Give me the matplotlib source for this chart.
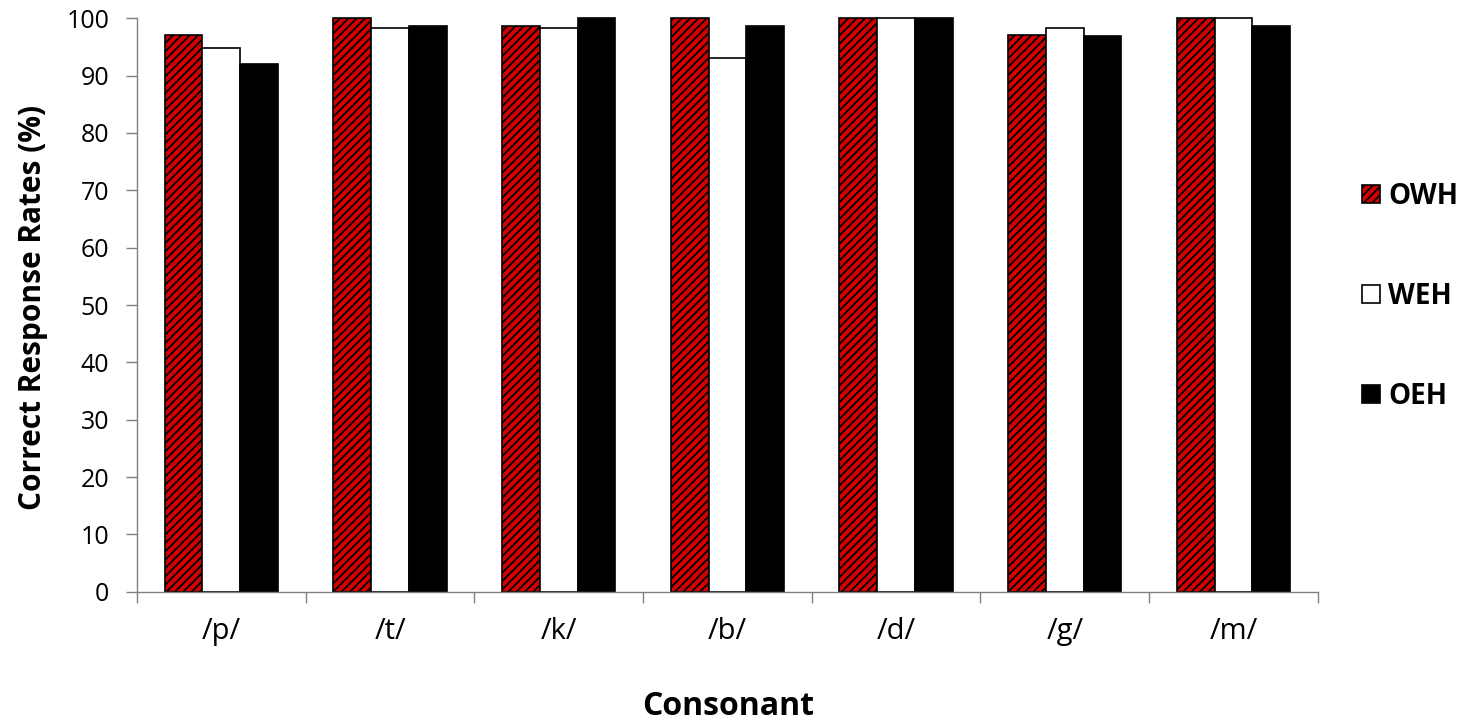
import matplotlib
matplotlib.use("Agg")
import matplotlib.pyplot as plt
import numpy as np

categories = ["/p/", "/t/", "/k/", "/b/", "/d/", "/g/", "/m/"]
series_names = ["OWH", "WEH", "OEH"]
owh = [97.0, 100.0, 98.6, 100.0, 100.0, 97.1, 100.0]
weh = [94.8, 98.3, 98.3, 93.0, 100.0, 98.3, 100.0]
oeh = [92.1, 98.6, 100.0, 98.6, 100.0, 96.9, 98.6]
yticks = list(range(0, 101, 10))

plt.rcParams['font.family'] = ['Open Sans', 'DejaVu Sans']
plt.rcParams['hatch.linewidth'] = 1.3

fig = plt.figure(figsize=(14.61, 7.28), dpi=100)
ax = fig.add_axes([0.0938, 0.187, 0.8082, 0.788])

x = np.arange(len(categories))
w = 0.224
styles = [
    dict(facecolor="#d40000", edgecolor="black", hatch="////"),
    dict(facecolor="white", edgecolor="black"),
    dict(facecolor="black", edgecolor="black"),
]
for i, (vals, name, st) in enumerate(zip([owh, weh, oeh], series_names, styles)):
    ax.bar(x + (i - 1) * w, vals, w, label=name, linewidth=1.2, clip_on=False, **st)

ax.set_xlim(-0.5, len(categories) - 0.5)
ax.set_ylim(0, 100)
ax.set_yticks(yticks)
ax.tick_params(axis='y', labelsize=18, length=8, width=1, color='#808080', pad=12)
ax.set_xticks(np.arange(-0.5, len(categories), 1.0))
ax.set_xticklabels([])
ax.set_xticks(x, minor=True)
ax.set_xticklabels(categories, minor=True, fontsize=21)
ax.tick_params(axis='x', which='major', length=8, width=1, color='#808080')
ax.tick_params(axis='x', which='minor', length=0, pad=18)
for s in ['top', 'right']:
    ax.spines[s].set_visible(False)
for s in ['left', 'bottom']:
    ax.spines[s].set_color('#808080')
    ax.spines[s].set_linewidth(1)

fig.text(0.0226, 0.578, "Correct Response Rates (%)", fontsize=21.5, fontweight='bold',
         rotation=90, ha='center', va='center')
fig.text(0.4983, 0.029, "Consonant", fontsize=23, fontweight='bold', ha='center', va='center')

leg = fig.legend(loc='center left', bbox_to_anchor=(0.932, 0.593), frameon=False,
                 prop=dict(size=20, weight='bold'), handlelength=0.65, handleheight=0.65,
                 handletextpad=0.3, labelspacing=2.55, borderaxespad=0, borderpad=0)

fig.savefig("out.png", dpi=100)
